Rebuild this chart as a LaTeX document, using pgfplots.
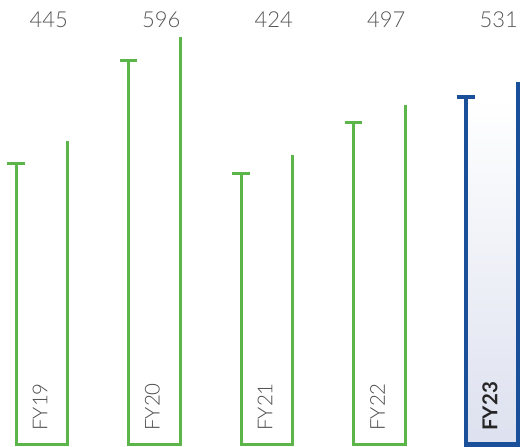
\documentclass[border=0pt]{standalone}
\usepackage{fontspec}
\setmainfont{Lato}[UprightFont={* Light},BoldFont={* Bold}]
\usepackage{pgfplots}
\pgfplotsset{compat=1.18}
\definecolor{grn}{HTML}{5CB548}
\definecolor{blu}{HTML}{1A4F9A}
\definecolor{gradbot}{HTML}{DDE1EF}
\definecolor{lab}{HTML}{555555}
\tikzset{
  vlab/.style={text=lab, font=\fontsize{22}{24}\selectfont, anchor=center},
  clab/.style={text=lab!90!black, font=\fontsize{20.5}{22}\selectfont, rotate=90, anchor=west, inner sep=0pt},
}
\begin{document}
\begin{tikzpicture}
\begin{axis}[
  scale only axis, width=522pt, height=447pt,
  xmin=-0.3733, xmax=4.2667, ymin=-3.66, ymax=650.8,
  hide axis, clip=false,
]
\coordinate (sw) at (rel axis cs:0,0);
\coordinate (ne) at (rel axis cs:1,1);
% gradient fill for FY23
\addplot[draw=none, shade, top color=white, middle color=gradbot!80, bottom color=gradbot]
  coordinates {(3.769,0) (3.769,509) (4.231,509) (4.231,0)} -- cycle;
% U shapes: left height, bottom, right height
\addplot[grn, line width=3pt, line join=miter] coordinates {(-0.231,412) (-0.231,0) (0.231,0) (0.231,445)};
\addplot[grn, line width=3pt, line join=miter] coordinates {(0.769,562) (0.769,0) (1.231,0) (1.231,596)};
\addplot[grn, line width=3pt, line join=miter] coordinates {(1.769,397) (1.769,0) (2.231,0) (2.231,424)};
\addplot[grn, line width=3pt, line join=miter] coordinates {(2.769,471) (2.769,0) (3.231,0) (3.231,497)};
\addplot[blu, line width=4.2pt, line join=miter] coordinates {(3.769,509) (3.769,0) (4.231,0) (4.231,531)};
% caps
\addplot[grn, line width=3pt] coordinates {(-0.307,412) (-0.155,412)};
\addplot[grn, line width=3pt] coordinates {(0.693,562) (0.845,562)};
\addplot[grn, line width=3pt] coordinates {(1.693,397) (1.845,397)};
\addplot[grn, line width=3pt] coordinates {(2.693,471) (2.845,471)};
\addplot[blu, line width=4.2pt] coordinates {(3.685,509) (3.853,509)};
% value labels
\node[vlab] at (axis cs:0.06,621.5) {445};
\node[vlab] at (axis cs:1.06,621.5) {596};
\node[vlab] at (axis cs:2.06,621.5) {424};
\node[vlab] at (axis cs:3.06,621.5) {497};
\node[vlab] at (axis cs:4.06,621.5) {531};
% category labels
\node[clab] at (axis cs:-0.018,19.8) {FY19};
\node[clab] at (axis cs:0.982,19.8) {FY20};
\node[clab] at (axis cs:1.982,19.8) {FY21};
\node[clab] at (axis cs:2.982,19.8) {FY22};
\node[clab, text=black!85, font=\fontsize{20.5}{22}\selectfont\bfseries] at (axis cs:3.982,19.8) {FY23};
\end{axis}
\pgfresetboundingbox
\path (sw) rectangle (ne);
\end{tikzpicture}
\end{document}
